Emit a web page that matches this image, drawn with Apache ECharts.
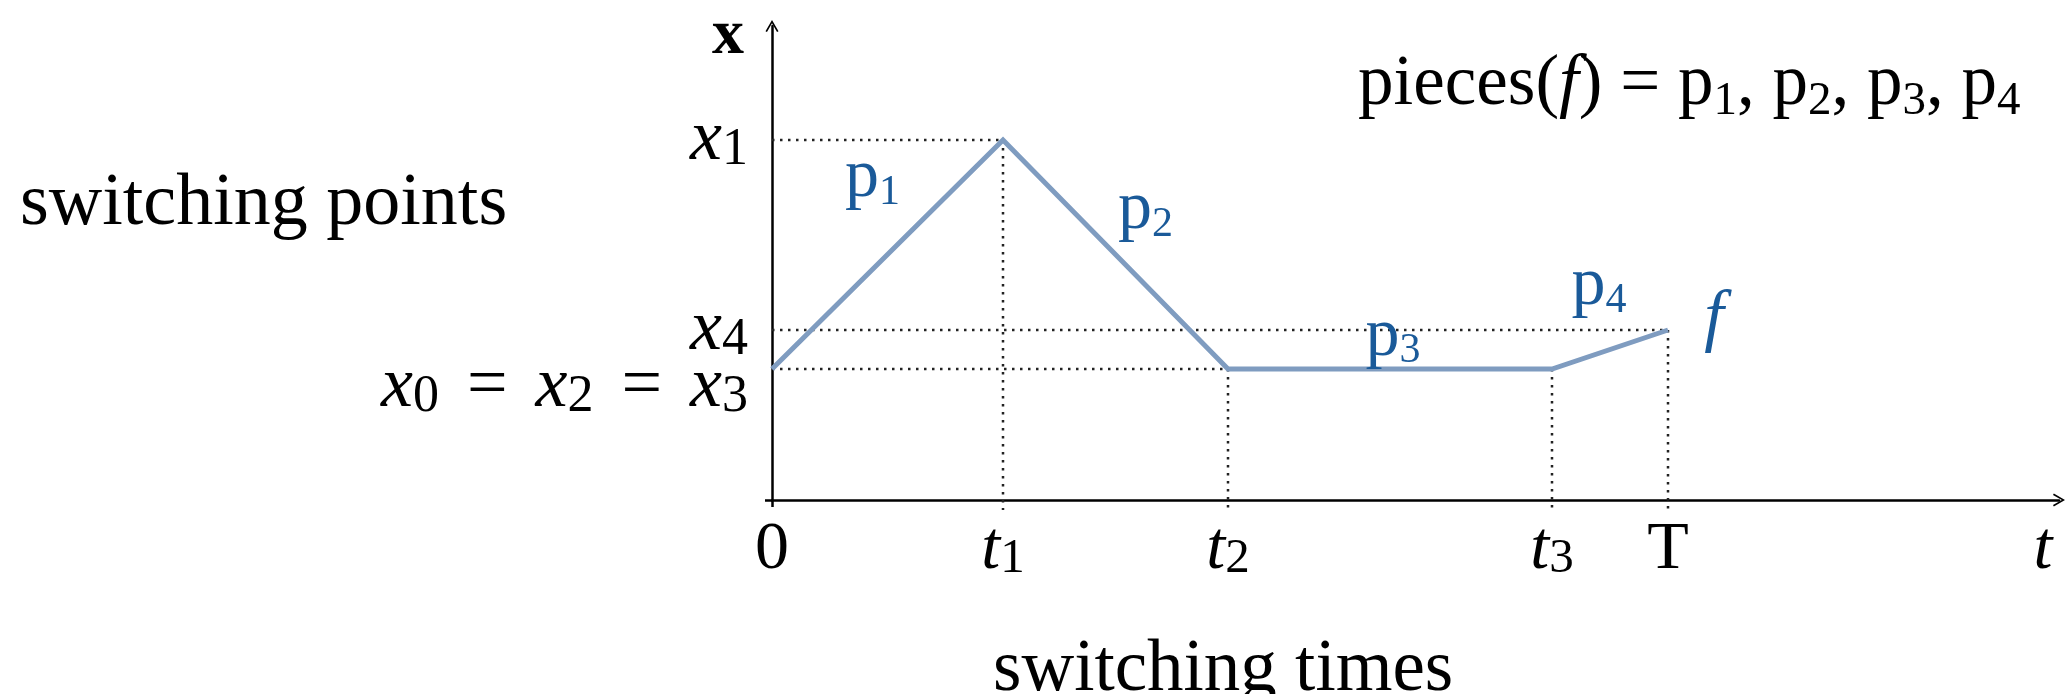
<!DOCTYPE html>
<html>
<head>
<meta charset="utf-8">
<title>switching points / switching times</title>
<script src="https://cdn.jsdelivr.net/npm/echarts@6/dist/echarts.min.js"></script>
<style>
html, body { margin: 0; padding: 0; background: #fff; }
#chart { width: 2069px; height: 694px; }
</style>
</head>
<body>
<div id="chart"></div>
<script>
// values (1 unit = 100px of the reference)
const switchTimes = [0, 2.31, 4.56, 7.80, 8.96];     // 0, t1, t2, t3, T
const switchPoints = [1.31, 3.60, 1.31, 1.31, 1.70];  // x0, x1, x2, x3, x4
const timeTickLabels = ['0', 't1', 't2', 't3', 'T'];
const tAxisLabelAt = 12.71;                           // the "t" under the arrow
const pointLevels = [3.60, 1.70];
const pointTickLabels = ['x1', 'x4'];
const lowLevel = [1.31];
const lowTickLabel = 'x0 = x2 = x3';
const pieceNames = ['p1', 'p2', 'p3', 'p4'];
const tMax = 12.87;
const xMax = 4.74;

const serif = '"Liberation Serif", "DejaVu Serif", serif';
const lineColor = '#7f9cc0';
const labelBlue = '#1a5a99';

// chevron like the tikz "->" head
const arrowHead = 'path://M0,12 L7,0 L14,12 L12.4,12.9 L7,3.4 L1.6,12.9 Z';

// 'x1' -> italic x + lowered 1, '=' kept upright
function mathText (s) {
  return s.split(' ').map(part => {
    const m = part.match(/^([a-z])(\d)$/);
    if (m) return '{it|' + m[1] + '}{sub|' + m[2] + '}';
    if (part === '=') return '{eq|=}';
    if (/^[a-z]$/.test(part)) return '{it|' + part + '}';
    return '{rm|' + part + '}';
  }).join('');
}

function mathRich (size) {
  const sub = Math.round(size * 0.72);
  return {
    it: { fontFamily: serif, fontStyle: 'italic', fontSize: size, lineHeight: size, color: '#000', verticalAlign: 'middle' },
    rm: { fontFamily: serif, fontSize: size, lineHeight: size, color: '#000', verticalAlign: 'middle' },
    eq: { fontFamily: serif, fontSize: size, lineHeight: size, color: '#000', verticalAlign: 'middle', padding: [0, 28, 0, 28] },
    sub: { fontFamily: serif, fontSize: sub, lineHeight: Math.round(size * 0.47), color: '#000', verticalAlign: 'bottom' },
    gap: { fontSize: 10, lineHeight: 36 }
  };
}

const pieceRich = {
  p: { fontFamily: serif, fontSize: 68, lineHeight: 70, color: labelBlue, verticalAlign: 'middle' },
  d: { fontFamily: serif, fontSize: 42, lineHeight: 50, color: labelBlue, verticalAlign: 'bottom' },
  f: { fontFamily: serif, fontStyle: 'italic', fontSize: 70, lineHeight: 70, color: labelBlue }
};

// dotted guides from the switching points to both axes
const guides = [];
for (let i = 1; i < switchTimes.length; i++) {
  guides.push([[switchTimes[i], switchPoints[i]], [switchTimes[i], -0.1]]);
}
guides.push([[-0.08, switchPoints[1]], [switchTimes[1], switchPoints[1]]]);
guides.push([[-0.08, switchPoints[4]], [switchTimes[4], switchPoints[4]]]);
guides.push([[-0.08, switchPoints[0]], [switchTimes[2], switchPoints[0]]]);

const guideSeries = guides.map(seg => ({
  type: 'line',
  data: seg,
  symbol: 'none',
  clip: false,
  silent: true,
  z: 1,
  lineStyle: { color: '#222', width: 2.5, type: [2.5, 5.5] }
}));

// piece labels sit near the middle of each segment
const pieceOffsets = [[-15, -76], [30, -44], [3, -32], [-11, -63]];
const pieceMarks = pieceNames.map((name, i) => ({
  coord: [(switchTimes[i] + switchTimes[i + 1]) / 2, (switchPoints[i] + switchPoints[i + 1]) / 2],
  label: { formatter: '{p|p}{d|' + name.slice(1) + '}', offset: pieceOffsets[i] }
}));
pieceMarks.push({
  coord: [switchTimes[4], switchPoints[4]],
  label: { formatter: '{f|f}', offset: [46, -10] }
});

const axisLineStyle = { color: '#000', width: 2.5 };

const option = {
  animation: false,
  backgroundColor: '#fff',
  grid: { left: 772, top: 26, width: 1287, height: 474, outerBoundsMode: 'none' },
  xAxis: {
    type: 'value',
    min: 0,
    max: tMax,
    splitLine: { show: false },
    axisLine: { show: true, symbol: ['none', arrowHead], symbolSize: [16, 12], lineStyle: axisLineStyle },
    axisTick: { show: true, customValues: [0], length: 7, lineStyle: axisLineStyle },
    axisLabel: {
      show: true,
      customValues: switchTimes.concat([tAxisLabelAt]),
      margin: 16,
      hideOverlap: false,
      formatter: v => {
        const i = switchTimes.indexOf(v);
        return mathText(i >= 0 ? timeTickLabels[i] : 't');
      },
      rich: mathRich(68)
    }
  },
  yAxis: [
    {
      type: 'value',
      min: 0,
      max: xMax,
      name: 'x',
      nameLocation: 'end',
      nameGap: -10,
      nameTextStyle: {
        fontFamily: serif, fontWeight: 'bold', fontSize: 64, color: '#000',
        align: 'right', verticalAlign: 'middle', padding: [0, 28, 0, 0]
      },
      splitLine: { show: false },
      axisLine: { show: true, symbol: ['none', arrowHead], symbolSize: [16, 12], lineStyle: axisLineStyle },
      axisTick: { show: true, customValues: [0], length: 7, lineStyle: axisLineStyle },
      axisLabel: {
        show: true,
        customValues: pointLevels,
        margin: 24,
        hideOverlap: false,
        formatter: v => mathText(pointTickLabels[pointLevels.indexOf(v)]),
        rich: mathRich(72)
      }
    },
    {
      // second axis on the same scale only for the long label, which hangs under its line
      type: 'value',
      min: 0,
      max: xMax,
      position: 'left',
      splitLine: { show: false },
      axisLine: { show: false },
      axisTick: { show: false },
      axisLabel: {
        show: true,
        customValues: lowLevel,
        margin: 24,
        hideOverlap: false,
        formatter: () => '{gap| }\n' + mathText(lowTickLabel),
        rich: mathRich(72)
      }
    }
  ],
  graphic: [
    {
      type: 'text', left: 20, top: 168,
      style: { text: 'switching points', font: '74px ' + serif, fill: '#000' }
    },
    {
      type: 'text', left: 993, top: 634,
      style: { text: 'switching times', font: '73px ' + serif, fill: '#000' }
    },
    {
      type: 'text', left: 1358, top: 50,
      style: {
        text: '{rm|pieces(}{fi|f}{rm|) = p}{d|1}{rm|, p}{d|2}{rm|, p}{d|3}{rm|, p}{d|4}',
        rich: {
          rm: { fontFamily: serif, fontSize: 71, lineHeight: 80, fill: '#000', verticalAlign: 'middle' },
          fi: { fontFamily: serif, fontStyle: 'italic', fontSize: 71, lineHeight: 80, fill: '#000', verticalAlign: 'middle' },
          d: { fontFamily: serif, fontSize: 47, lineHeight: 64, fill: '#000', verticalAlign: 'bottom' }
        }
      }
    }
  ],
  series: guideSeries.concat([
    {
      type: 'line',
      data: switchTimes.map((t, i) => [t, switchPoints[i]]),
      symbol: 'none',
      z: 3,
      lineStyle: { color: lineColor, width: 5, join: 'miter' },
      markPoint: {
        symbol: 'circle',
        symbolSize: 1,
        itemStyle: { color: 'rgba(0,0,0,0)' },
        label: { show: true, position: 'inside', rich: pieceRich },
        data: pieceMarks
      }
    }
  ])
};

const myChart = echarts.init(document.getElementById('chart'));
myChart.setOption(option);
</script>
</body>
</html>
